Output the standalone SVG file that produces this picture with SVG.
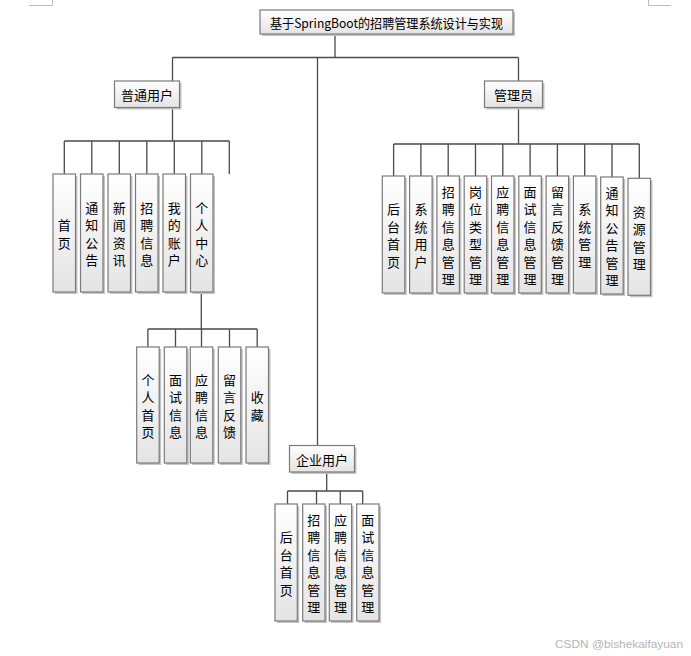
<svg xmlns="http://www.w3.org/2000/svg" width="691" height="656" viewBox="0 0 691 656">
<defs>
<linearGradient id="g" x1="0" y1="0" x2="0" y2="1">
<stop offset="0" stop-color="#ffffff"/>
<stop offset="1" stop-color="#e4e4e4"/>
</linearGradient>
<style>
.sh{fill:#c4c4c4;}
.bx{fill:url(#g);stroke:#7a7a7a;stroke-width:1.2;}
.t{font-family:"Noto Sans CJK SC","Liberation Sans",sans-serif;font-size:13px;fill:#000;text-anchor:middle;dominant-baseline:central;}
.c{fill:none;stroke:#4a4a4a;stroke-width:1.3;}
.mk{fill:none;stroke:#bdbdbd;stroke-width:1;}
.wm{font-family:"Liberation Sans","Noto Sans",sans-serif;font-size:11.5px;fill:#b5b5b5;}
</style>
</defs>
<rect width="691" height="656" fill="#fff"/>
<path class="mk" d="M29,5.5 H52.5 V0 M648.5,0 V5.5 H671"/>

<g id="connectors">
<path class="c" d="M335,33.5 V57.5 M172.5,57.5 H518.5 M172.5,57.5 V81 M518.5,57.5 V81 M317.5,57.5 V445.5"/>
<path class="c" d="M172.5,107.5 V141 M64.3,141 H229.3 M64.3,141 V174 M91.8,141 V174 M119.3,141 V174 M146.8,141 V174 M174.3,141 V174 M201.8,141 V174 M229.3,141 V174"/>
<path class="c" d="M201.3,292 V329 M147.9,329 H257.2 M147.9,329 V347 M175.5,329 V347 M201.5,329 V347 M229.5,329 V347 M257.2,329 V347"/>
<path class="c" d="M518.5,107.5 V144 M393.6,144 H639.3 M393.6,144 V176 M420.9,144 V176 M448.2,144 V176 M475.5,144 V176 M502.8,144 V176 M530.1,144 V176 M557.4,144 V176 M584.7,144 V176 M612,144 V177 M639.3,144 V178"/>
<path class="c" d="M326.7,472 V491 M287.5,491 H362.7 M287.5,491 V504 M316.5,491 V504 M340.3,491 V504 M362.7,491 V504"/>
</g>

<g id="root">
<rect class="sh" x="262" y="12" width="253" height="24"/>
<rect class="bx" x="260" y="10" width="253" height="24"/>
<text class="t" x="386.5" y="22.5" textLength="233" lengthAdjust="spacingAndGlyphs">基于SpringBoot的招聘管理系统设计与实现</text>
</g>

<g id="n-user">
<rect class="sh" x="116.5" y="83" width="65" height="26.5"/>
<rect class="bx" x="114.5" y="81" width="65" height="26.5"/>
<text class="t" x="147" y="94.5">普通用户</text>
</g>
<g id="n-admin">
<rect class="sh" x="486.5" y="83" width="58" height="26.5"/>
<rect class="bx" x="484.5" y="81" width="58" height="26.5"/>
<text class="t" x="513.5" y="94.5">管理员</text>
</g>
<g id="n-company">
<rect class="sh" x="291.5" y="447.5" width="65" height="26.5"/>
<rect class="bx" x="289.5" y="445.5" width="65" height="26.5"/>
<text class="t" x="322" y="459">企业用户</text>
</g>

<!-- 普通用户 children -->
<g id="u1"><rect class="sh" x="55" y="176" width="22.5" height="118"/><rect class="bx" x="53" y="174" width="22.5" height="118"/>
<text class="t"><tspan x="64.3" y="224.25">首</tspan><tspan x="64.3" y="241.75">页</tspan></text></g>
<g id="u2"><rect class="sh" x="82.5" y="176" width="22.5" height="118"/><rect class="bx" x="80.5" y="174" width="22.5" height="118"/>
<text class="t"><tspan x="91.8" y="206.75">通</tspan><tspan x="91.8" y="224.25">知</tspan><tspan x="91.8" y="241.75">公</tspan><tspan x="91.8" y="259.25">告</tspan></text></g>
<g id="u3"><rect class="sh" x="110" y="176" width="22.5" height="118"/><rect class="bx" x="108" y="174" width="22.5" height="118"/>
<text class="t"><tspan x="119.3" y="206.75">新</tspan><tspan x="119.3" y="224.25">闻</tspan><tspan x="119.3" y="241.75">资</tspan><tspan x="119.3" y="259.25">讯</tspan></text></g>
<g id="u4"><rect class="sh" x="137.5" y="176" width="22.5" height="118"/><rect class="bx" x="135.5" y="174" width="22.5" height="118"/>
<text class="t"><tspan x="146.8" y="206.75">招</tspan><tspan x="146.8" y="224.25">聘</tspan><tspan x="146.8" y="241.75">信</tspan><tspan x="146.8" y="259.25">息</tspan></text></g>
<g id="u5"><rect class="sh" x="165" y="176" width="22.5" height="118"/><rect class="bx" x="163" y="174" width="22.5" height="118"/>
<text class="t"><tspan x="174.3" y="206.75">我</tspan><tspan x="174.3" y="224.25">的</tspan><tspan x="174.3" y="241.75">账</tspan><tspan x="174.3" y="259.25">户</tspan></text></g>
<g id="u6"><rect class="sh" x="192.5" y="176" width="22.5" height="118"/><rect class="bx" x="190.5" y="174" width="22.5" height="118"/>
<text class="t"><tspan x="201.8" y="206.75">个</tspan><tspan x="201.8" y="224.25">人</tspan><tspan x="201.8" y="241.75">中</tspan><tspan x="201.8" y="259.25">心</tspan></text></g>

<!-- 个人中心 children -->
<g id="p1"><rect class="sh" x="138.7" y="349" width="22.5" height="116"/><rect class="bx" x="136.7" y="347" width="22.5" height="116"/>
<text class="t"><tspan x="147.9" y="378.75">个</tspan><tspan x="147.9" y="396.25">人</tspan><tspan x="147.9" y="413.75">首</tspan><tspan x="147.9" y="431.25">页</tspan></text></g>
<g id="p2"><rect class="sh" x="166.3" y="349" width="22.5" height="116"/><rect class="bx" x="164.3" y="347" width="22.5" height="116"/>
<text class="t"><tspan x="175.5" y="378.75">面</tspan><tspan x="175.5" y="396.25">试</tspan><tspan x="175.5" y="413.75">信</tspan><tspan x="175.5" y="431.25">息</tspan></text></g>
<g id="p3"><rect class="sh" x="192.3" y="349" width="22.5" height="116"/><rect class="bx" x="190.3" y="347" width="22.5" height="116"/>
<text class="t"><tspan x="201.5" y="378.75">应</tspan><tspan x="201.5" y="396.25">聘</tspan><tspan x="201.5" y="413.75">信</tspan><tspan x="201.5" y="431.25">息</tspan></text></g>
<g id="p4"><rect class="sh" x="220.3" y="349" width="22.5" height="116"/><rect class="bx" x="218.3" y="347" width="22.5" height="116"/>
<text class="t"><tspan x="229.5" y="378.75">留</tspan><tspan x="229.5" y="396.25">言</tspan><tspan x="229.5" y="413.75">反</tspan><tspan x="229.5" y="431.25">馈</tspan></text></g>
<g id="p5"><rect class="sh" x="248" y="349" width="22.5" height="116"/><rect class="bx" x="246" y="347" width="22.5" height="116"/>
<text class="t"><tspan x="257.2" y="396.25">收</tspan><tspan x="257.2" y="413.75">藏</tspan></text></g>

<!-- 管理员 children -->
<g id="a1"><rect class="sh" x="384.3" y="178" width="22.5" height="117"/><rect class="bx" x="382.3" y="176" width="22.5" height="117"/>
<text class="t"><tspan x="393.6" y="208.25">后</tspan><tspan x="393.6" y="225.75">台</tspan><tspan x="393.6" y="243.25">首</tspan><tspan x="393.6" y="260.75">页</tspan></text></g>
<g id="a2"><rect class="sh" x="411.6" y="178" width="22.5" height="117"/><rect class="bx" x="409.6" y="176" width="22.5" height="117"/>
<text class="t"><tspan x="420.9" y="208.25">系</tspan><tspan x="420.9" y="225.75">统</tspan><tspan x="420.9" y="243.25">用</tspan><tspan x="420.9" y="260.75">户</tspan></text></g>
<g id="a3"><rect class="sh" x="438.9" y="178" width="22.5" height="117"/><rect class="bx" x="436.9" y="176" width="22.5" height="117"/>
<text class="t"><tspan x="448.2" y="190.75">招</tspan><tspan x="448.2" y="208.25">聘</tspan><tspan x="448.2" y="225.75">信</tspan><tspan x="448.2" y="243.25">息</tspan><tspan x="448.2" y="260.75">管</tspan><tspan x="448.2" y="278.25">理</tspan></text></g>
<g id="a4"><rect class="sh" x="466.2" y="178" width="22.5" height="117"/><rect class="bx" x="464.2" y="176" width="22.5" height="117"/>
<text class="t"><tspan x="475.5" y="190.75">岗</tspan><tspan x="475.5" y="208.25">位</tspan><tspan x="475.5" y="225.75">类</tspan><tspan x="475.5" y="243.25">型</tspan><tspan x="475.5" y="260.75">管</tspan><tspan x="475.5" y="278.25">理</tspan></text></g>
<g id="a5"><rect class="sh" x="493.5" y="178" width="22.5" height="117"/><rect class="bx" x="491.5" y="176" width="22.5" height="117"/>
<text class="t"><tspan x="502.8" y="190.75">应</tspan><tspan x="502.8" y="208.25">聘</tspan><tspan x="502.8" y="225.75">信</tspan><tspan x="502.8" y="243.25">息</tspan><tspan x="502.8" y="260.75">管</tspan><tspan x="502.8" y="278.25">理</tspan></text></g>
<g id="a6"><rect class="sh" x="520.8" y="178" width="22.5" height="117"/><rect class="bx" x="518.8" y="176" width="22.5" height="117"/>
<text class="t"><tspan x="530.1" y="190.75">面</tspan><tspan x="530.1" y="208.25">试</tspan><tspan x="530.1" y="225.75">信</tspan><tspan x="530.1" y="243.25">息</tspan><tspan x="530.1" y="260.75">管</tspan><tspan x="530.1" y="278.25">理</tspan></text></g>
<g id="a7"><rect class="sh" x="548.1" y="178" width="22.5" height="117"/><rect class="bx" x="546.1" y="176" width="22.5" height="117"/>
<text class="t"><tspan x="557.4" y="190.75">留</tspan><tspan x="557.4" y="208.25">言</tspan><tspan x="557.4" y="225.75">反</tspan><tspan x="557.4" y="243.25">馈</tspan><tspan x="557.4" y="260.75">管</tspan><tspan x="557.4" y="278.25">理</tspan></text></g>
<g id="a8"><rect class="sh" x="575.4" y="178" width="22.5" height="117"/><rect class="bx" x="573.4" y="176" width="22.5" height="117"/>
<text class="t"><tspan x="584.7" y="208.25">系</tspan><tspan x="584.7" y="225.75">统</tspan><tspan x="584.7" y="243.25">管</tspan><tspan x="584.7" y="260.75">理</tspan></text></g>
<g id="a9"><rect class="sh" x="602.7" y="179" width="22.5" height="117"/><rect class="bx" x="600.7" y="177" width="22.5" height="117"/>
<text class="t"><tspan x="612" y="191.75">通</tspan><tspan x="612" y="209.25">知</tspan><tspan x="612" y="226.75">公</tspan><tspan x="612" y="244.25">告</tspan><tspan x="612" y="261.75">管</tspan><tspan x="612" y="279.25">理</tspan></text></g>
<g id="a10"><rect class="sh" x="630" y="180.3" width="22.5" height="117"/><rect class="bx" x="628" y="178.3" width="22.5" height="117"/>
<text class="t"><tspan x="639.3" y="210.5">资</tspan><tspan x="639.3" y="228">源</tspan><tspan x="639.3" y="245.5">管</tspan><tspan x="639.3" y="263">理</tspan></text></g>

<!-- 企业用户 children -->
<g id="e1"><rect class="sh" x="277" y="506" width="22.3" height="117"/><rect class="bx" x="275" y="504" width="22.3" height="117"/>
<text class="t"><tspan x="286.2" y="536.25">后</tspan><tspan x="286.2" y="553.75">台</tspan><tspan x="286.2" y="571.25">首</tspan><tspan x="286.2" y="588.75">页</tspan></text></g>
<g id="e2"><rect class="sh" x="304.7" y="506" width="22.3" height="117"/><rect class="bx" x="302.7" y="504" width="22.3" height="117"/>
<text class="t"><tspan x="313.8" y="518.75">招</tspan><tspan x="313.8" y="536.25">聘</tspan><tspan x="313.8" y="553.75">信</tspan><tspan x="313.8" y="571.25">息</tspan><tspan x="313.8" y="588.75">管</tspan><tspan x="313.8" y="606.25">理</tspan></text></g>
<g id="e3"><rect class="sh" x="331.3" y="506" width="22.3" height="117"/><rect class="bx" x="329.3" y="504" width="22.3" height="117"/>
<text class="t"><tspan x="340.5" y="518.75">应</tspan><tspan x="340.5" y="536.25">聘</tspan><tspan x="340.5" y="553.75">信</tspan><tspan x="340.5" y="571.25">息</tspan><tspan x="340.5" y="588.75">管</tspan><tspan x="340.5" y="606.25">理</tspan></text></g>
<g id="e4"><rect class="sh" x="358.7" y="506" width="22.3" height="117"/><rect class="bx" x="356.7" y="504" width="22.3" height="117"/>
<text class="t"><tspan x="367.8" y="518.75">面</tspan><tspan x="367.8" y="536.25">试</tspan><tspan x="367.8" y="553.75">信</tspan><tspan x="367.8" y="571.25">息</tspan><tspan x="367.8" y="588.75">管</tspan><tspan x="367.8" y="606.25">理</tspan></text></g>

<text class="wm" x="555" y="648" textLength="128" lengthAdjust="spacingAndGlyphs">CSDN @bishekaifayuan</text>
</svg>
